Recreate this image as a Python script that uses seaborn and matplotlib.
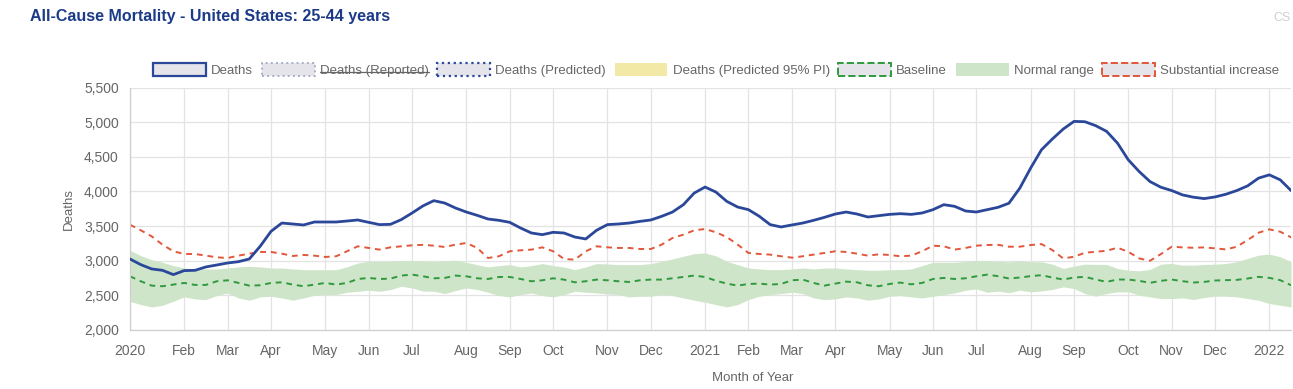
import seaborn as sns
import matplotlib.pyplot as plt
from matplotlib.patches import Patch
from matplotlib.lines import Line2D
from matplotlib.ticker import FuncFormatter

# weekly values (week index 0 = first week of 2020)
deaths = [3024, 2942, 2880, 2860, 2798, 2856, 2860, 2909, 2937, 2966,
          2985, 3024, 3207, 3423, 3543, 3529, 3515, 3558, 3558, 3558,
          3572, 3587, 3553, 3520, 3524, 3592, 3688, 3790, 3866, 3832,
          3760, 3702, 3654, 3601, 3582, 3553, 3471, 3399, 3375, 3409,
          3399, 3341, 3313, 3438, 3520, 3529, 3543, 3567, 3587, 3640,
          3702, 3808, 3976, 4063, 3990, 3856, 3774, 3736, 3640, 3520,
          3486, 3515, 3543, 3582, 3625, 3673, 3702, 3673, 3630, 3649,
          3668, 3678, 3668, 3688, 3736, 3808, 3784, 3717, 3702, 3736,
          3770, 3829, 4046, 4336, 4601, 4756, 4900, 5011, 5006, 4949,
          4867, 4698, 4456, 4287, 4142, 4060, 4012, 3949, 3916, 3896,
          3920, 3959, 4012, 4080, 4191, 4239, 4167, 4012]

substantial = [3519, 3438, 3351, 3231, 3135, 3096, 3096, 3072, 3048, 3038,
               3072, 3101, 3125, 3125, 3101, 3067, 3082, 3072, 3053, 3063,
               3135, 3207, 3183, 3159, 3192, 3207, 3221, 3228, 3216, 3197,
               3231, 3255, 3183, 3038, 3063, 3135, 3149, 3159, 3192, 3135,
               3024, 3014, 3135, 3207, 3192, 3183, 3183, 3168, 3168, 3231,
               3327, 3375, 3438, 3457, 3409, 3341, 3231, 3111, 3096, 3087,
               3063, 3043, 3063, 3087, 3111, 3135, 3125, 3101, 3072, 3091,
               3082, 3063, 3072, 3135, 3216, 3207, 3159, 3183, 3216, 3226,
               3228, 3201, 3201, 3225, 3239, 3153, 3032, 3056, 3114, 3128,
               3143, 3186, 3128, 3032, 2998, 3094, 3201, 3191, 3186, 3191,
               3177, 3162, 3201, 3297, 3403, 3452, 3418, 3336]

baseline = [2774, 2702, 2639, 2630, 2654, 2678, 2649, 2649, 2702, 2716,
            2678, 2639, 2644, 2678, 2687, 2654, 2630, 2654, 2678, 2654,
            2678, 2735, 2750, 2735, 2740, 2784, 2798, 2774, 2745, 2750,
            2784, 2774, 2745, 2735, 2764, 2764, 2735, 2702, 2716, 2745,
            2726, 2687, 2702, 2726, 2716, 2702, 2692, 2716, 2726, 2726,
            2745, 2764, 2784, 2764, 2710, 2668, 2639, 2663, 2668, 2654,
            2663, 2716, 2726, 2678, 2639, 2668, 2697, 2687, 2644, 2630,
            2663, 2683, 2658, 2678, 2735, 2750, 2735, 2745, 2774, 2798,
            2775, 2742, 2756, 2776, 2790, 2756, 2727, 2756, 2766, 2727,
            2693, 2727, 2727, 2708, 2679, 2708, 2727, 2703, 2684, 2693,
            2713, 2718, 2722, 2742, 2766, 2751, 2718, 2645]

normal_upper = [3149, 3072, 3014, 2976, 2928, 2894, 2880, 2880, 2880, 2894,
                2909, 2918, 2909, 2894, 2894, 2880, 2870, 2870, 2870, 2870,
                2909, 2966, 2990, 2990, 2990, 3000, 3000, 2995, 2990, 2995,
                3005, 2976, 2942, 2909, 2928, 2942, 2909, 2928, 2957, 2928,
                2909, 2870, 2909, 2957, 2952, 2942, 2942, 2942, 2957, 2990,
                3024, 3063, 3101, 3111, 3070, 2990, 2942, 2894, 2880, 2870,
                2870, 2880, 2894, 2880, 2894, 2894, 2880, 2870, 2861, 2861,
                2870, 2870, 2880, 2928, 2976, 2976, 2976, 2990, 3000, 3000,
                2990, 2983, 2998, 2983, 2983, 2949, 2887, 2921, 2949, 2945,
                2945, 2887, 2862, 2853, 2872, 2949, 2959, 2935, 2935, 2945,
                2949, 2959, 2983, 3032, 3080, 3094, 3056, 2983]

normal_lower = [2413, 2365, 2331, 2355, 2413, 2476, 2447, 2437, 2495, 2533,
                2461, 2428, 2476, 2485, 2461, 2428, 2461, 2500, 2509, 2509,
                2543, 2557, 2572, 2557, 2581, 2630, 2606, 2560, 2557, 2524,
                2567, 2606, 2582, 2543, 2495, 2476, 2509, 2533, 2495, 2476,
                2509, 2557, 2543, 2533, 2519, 2509, 2476, 2485, 2485, 2509,
                2495, 2461, 2428, 2399, 2365, 2331, 2365, 2437, 2485, 2509,
                2524, 2543, 2524, 2461, 2437, 2447, 2476, 2461, 2428, 2447,
                2485, 2495, 2476, 2461, 2485, 2509, 2533, 2572, 2591, 2543,
                2560, 2535, 2573, 2549, 2563, 2583, 2621, 2597, 2525, 2486,
                2525, 2549, 2549, 2500, 2476, 2452, 2452, 2462, 2438, 2467,
                2486, 2486, 2476, 2452, 2428, 2380, 2355, 2331]

weeks = list(range(len(deaths)))

tick_weeks = [0, 5, 9, 13, 18, 22, 26, 31, 35, 39, 44, 48,
              53, 57, 61, 65, 70, 74, 78, 83, 87, 92, 96, 100, 105]
tick_labels = ["2020", "Feb", "Mar", "Apr", "May", "Jun", "Jul", "Aug", "Sep", "Oct", "Nov", "Dec",
               "2021", "Feb", "Mar", "Apr", "May", "Jun", "Jul", "Aug", "Sep", "Oct", "Nov", "Dec",
               "2022"]

sns.set_style("white")
plt.rcParams['font.family'] = ['Liberation Sans', 'DejaVu Sans']

BLUE = "#2a4799"
RED = "#e2573a"
GREEN = "#2e9a3e"
BAND = "#cfe5c9"
GRAY = "#666666"

fig = plt.figure(figsize=(12.93, 3.89), dpi=100)
ax = fig.add_axes([0.1005, 0.152, 0.898, 0.623])

ax.fill_between(weeks, normal_lower, normal_upper, color=BAND, linewidth=0, zorder=1)
sns.lineplot(x=weeks, y=baseline, ax=ax, color=GREEN, linewidth=1.4,
             linestyle=(0, (3, 2.5)), zorder=2)
sns.lineplot(x=weeks, y=substantial, ax=ax, color=RED, linewidth=1.4,
             linestyle=(0, (3, 2.5)), zorder=2)
sns.lineplot(x=weeks, y=deaths, ax=ax, color=BLUE, linewidth=2.0, zorder=3)

ax.set_xlim(0, 107)
ax.set_ylim(2000, 5500)
ax.set_yticks(range(2000, 5501, 500))
ax.yaxis.set_major_formatter(FuncFormatter(lambda v, p: f"{int(v):,}"))
ax.set_xticks(tick_weeks)
ax.set_xticklabels(tick_labels)
ax.grid(True, color="#e3e3e3", linewidth=0.9)
ax.tick_params(axis="x", length=6, color="#e3e3e3", labelcolor=GRAY, labelsize=10, pad=4)
ax.tick_params(axis="y", length=4, color="#e3e3e3", labelcolor=GRAY, labelsize=10, pad=4)
for s in ["top", "right"]:
    ax.spines[s].set_visible(False)
for s in ["left", "bottom"]:
    ax.spines[s].set_color("#cfcfcf")
    ax.spines[s].set_linewidth(0.9)

ax.set_ylabel("Deaths", color=GRAY, fontsize=9.5)
ax.yaxis.set_label_coords(-0.047, 0.5)
ax.set_xlabel("Month of Year", color=GRAY, fontsize=9.5)
ax.xaxis.set_label_coords(0.536, -0.175)

fig.text(0.023, 0.958, "All-Cause Mortality - United States: 25-44 years",
         color="#1b3a87", fontsize=11.5, fontweight="bold", va="center")
fig.text(0.985, 0.955, "CS", color="#d0d0d0", fontsize=9, va="center")

box = "#e4e4ea"
handles = [
    Patch(facecolor=box, edgecolor=BLUE, linewidth=1.6, label="Deaths"),
    Patch(facecolor=box, edgecolor="#a9afc8", linewidth=1.4, linestyle=":", label="Deaths (Reported)"),
    Patch(facecolor=box, edgecolor=BLUE, linewidth=1.6, linestyle=":", label="Deaths (Predicted)"),
    Patch(facecolor="#f3e9a6", edgecolor="none", label="Deaths (Predicted 95% PI)"),
    Patch(facecolor=box, edgecolor=GREEN, linewidth=1.4, linestyle="--", label="Baseline"),
    Patch(facecolor=BAND, edgecolor="none", label="Normal range"),
    Patch(facecolor=box, edgecolor=RED, linewidth=1.4, linestyle="--", label="Substantial increase"),
]
leg = fig.legend(handles=handles, loc="center", bbox_to_anchor=(0.554, 0.82), ncol=7,
                 frameon=False, fontsize=9.5, handlelength=4.0, handleheight=1.15,
                 handletextpad=0.4, columnspacing=0.65, labelcolor=GRAY)

fig.canvas.draw()
t = leg.get_texts()[1]
bb = t.get_window_extent().transformed(fig.transFigure.inverted())
ym = bb.y0 + bb.height * 0.42
fig.add_artist(Line2D([bb.x0, bb.x1], [ym, ym], color=GRAY, linewidth=0.9, transform=fig.transFigure))

fig.savefig("out.png", dpi=100)
